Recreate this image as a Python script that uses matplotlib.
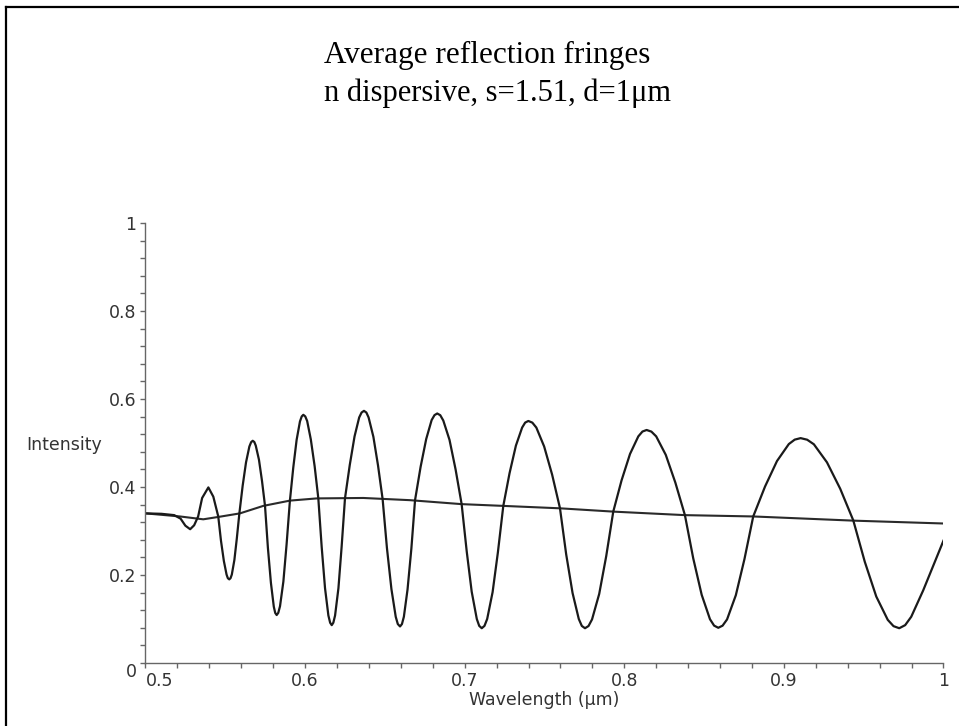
"""Average reflection fringes for a dispersive thin film, Maple-style plot"""

import matplotlib
matplotlib.use("Agg")
import matplotlib.pyplot as plt
from matplotlib.lines import Line2D

# fringe curve (wavelength in um, intensity)
fringe_x = [
    0.500, 0.510, 0.518, 0.522, 0.525, 0.528, 0.5305, 0.533, 0.5355, 0.5394,
    0.5425, 0.5456, 0.5473, 0.5491, 0.5508, 0.5516, 0.5525, 0.5533, 0.5541,
    0.5557, 0.5572, 0.5588, 0.5609, 0.5630, 0.5651, 0.5662, 0.5672, 0.5682,
    0.5691, 0.5711, 0.5730, 0.5749, 0.5767, 0.5786, 0.5804, 0.5813, 0.5822,
    0.5832, 0.5843, 0.5864, 0.5884, 0.5905, 0.5926, 0.5947, 0.5968, 0.5979,
    0.5989, 0.6001, 0.6013, 0.6036, 0.6060, 0.6083, 0.6104, 0.6125, 0.6146,
    0.6157, 0.6167, 0.6177, 0.6188, 0.6209, 0.6229, 0.6250, 0.6280, 0.6310,
    0.6339, 0.6354, 0.6369, 0.6384, 0.6398, 0.6428, 0.6457, 0.6486, 0.6513,
    0.6541, 0.6568, 0.6581, 0.6595, 0.6607, 0.6619, 0.6642, 0.6666, 0.6689,
    0.6724, 0.6759, 0.6793, 0.6811, 0.6828, 0.6847, 0.6866, 0.6905, 0.6943,
    0.6981, 0.7013, 0.7044, 0.7076, 0.7091, 0.7107, 0.7124, 0.7141, 0.7175,
    0.7208, 0.7242, 0.7281, 0.7321, 0.7360, 0.7379, 0.7399, 0.7424, 0.7449,
    0.7498, 0.7548, 0.7597, 0.7636, 0.7676, 0.7715, 0.7734, 0.7754, 0.7776,
    0.7798, 0.7843, 0.7887, 0.7931, 0.7983, 0.8036, 0.8088, 0.8114, 0.8140,
    0.8170, 0.8200, 0.8260, 0.8320, 0.8380, 0.8432, 0.8485, 0.8537, 0.8563,
    0.8589, 0.8616, 0.8644, 0.8699, 0.8753, 0.8808, 0.8882, 0.8957, 0.9031,
    0.9068, 0.9105, 0.9146, 0.9188, 0.9270, 0.9353, 0.9435, 0.9507, 0.9579,
    0.9651, 0.9687, 0.9723, 0.9760, 0.9798, 0.9873, 0.9948, 1.000,
]
fringe_y = [
    0.340, 0.339, 0.336, 0.328, 0.312, 0.304, 0.313, 0.333, 0.375, 0.399,
    0.378, 0.333, 0.278, 0.232, 0.201, 0.1927, 0.190, 0.1928, 0.201,
    0.234, 0.282, 0.339, 0.403, 0.456, 0.492, 0.5018, 0.505, 0.5022,
    0.494, 0.462, 0.414, 0.357, 0.262, 0.182, 0.128, 0.1137, 0.109,
    0.1139, 0.129, 0.185, 0.269, 0.369, 0.444, 0.507, 0.549, 0.5603,
    0.564, 0.5604, 0.550, 0.508, 0.447, 0.374, 0.264, 0.170, 0.108,
    0.0915, 0.086, 0.0915, 0.108, 0.170, 0.264, 0.374, 0.450, 0.515,
    0.558, 0.5692, 0.573, 0.5692, 0.558, 0.514, 0.449, 0.372, 0.261,
    0.168, 0.105, 0.0885, 0.083, 0.0885, 0.105, 0.167, 0.260, 0.370,
    0.446, 0.509, 0.552, 0.5633, 0.567, 0.5631, 0.551, 0.507, 0.440,
    0.361, 0.253, 0.162, 0.100, 0.0844, 0.079, 0.0843, 0.100, 0.161,
    0.251, 0.357, 0.431, 0.494, 0.535, 0.5463, 0.550, 0.5462, 0.535,
    0.492, 0.428, 0.352, 0.247, 0.159, 0.100, 0.0842, 0.079, 0.0840,
    0.099, 0.157, 0.243, 0.344, 0.415, 0.475, 0.515, 0.5260, 0.5295,
    0.5258, 0.515, 0.473, 0.410, 0.336, 0.238, 0.155, 0.0995, 0.0849,
    0.080, 0.0848, 0.099, 0.154, 0.236, 0.333, 0.401, 0.459, 0.4975,
    0.5076, 0.511, 0.5074, 0.497, 0.456, 0.396, 0.324, 0.230, 0.151,
    0.098, 0.0837, 0.079, 0.086, 0.105, 0.165, 0.232, 0.278,
]

# averaged (smooth) curve
avg_x = [0.500, 0.5216, 0.5362, 0.5467, 0.5592, 0.5738, 0.5905, 0.6073, 0.6365,
         0.6657, 0.6981, 0.7242, 0.7597, 0.7931, 0.8380, 0.8808, 0.9435, 1.000]
avg_y = [0.340, 0.333, 0.3265, 0.3325, 0.340, 0.357, 0.369, 0.374, 0.375,
         0.370, 0.361, 0.357, 0.3515, 0.344, 0.336, 0.333, 0.3235, 0.317]

x_ticks = [0.5, 0.6, 0.7, 0.8, 0.9, 1.0]
x_labels = ["0.5", "0.6", "0.7", "0.8", "0.9", "1"]
y_ticks = [0, 0.2, 0.4, 0.6, 0.8, 1.0]
y_labels = ["0", "0.2", "0.4", "0.6", "0.8", "1"]

fig = plt.figure(figsize=(9.59, 7.26), dpi=100)
ax = fig.add_axes([0.1517, 0.0868, 0.8321, 0.6061])

ax.plot(avg_x, avg_y, color="#2a2a2a", lw=1.5)
ax.plot(fringe_x, fringe_y, color="#1a1a1a", lw=1.6)

ax.set_xlim(0.5, 1.0)
ax.set_ylim(0, 1.0)
for side in ["top", "right"]:
    ax.spines[side].set_visible(False)
for side in ["left", "bottom"]:
    ax.spines[side].set_color("#666666")
    ax.spines[side].set_linewidth(1.0)

ax.set_xticks(x_ticks)
ax.set_xticklabels(x_labels)
ax.set_xticks([0.5 + 0.02 * i for i in range(26)], minor=True)
ax.set_yticks(y_ticks)
ax.set_yticklabels(y_labels)
ax.set_yticks([0.04 * i for i in range(26)], minor=True)
ax.tick_params(which="both", direction="out", length=3.5, width=1,
               color="#666666", labelsize=12.5, labelcolor="#333333", pad=3)

# Maple nudges the origin labels out of each other's way
ax.get_xticklabels()[0].set_horizontalalignment("left")
ax.get_yticklabels()[0].set_verticalalignment("top")

ax.set_xlabel("Wavelength (μm)", fontsize=12.5, color="#333333", va="center")
ax.xaxis.set_label_coords(0.5, -0.084)
ax.set_ylabel("Intensity", fontsize=12.5, color="#333333", rotation=0,
              ha="left", va="center")
ax.yaxis.set_label_coords(-0.1497, 0.4955)

fig.text(0.5075, 0.9132, "Average reflection fringes", family="Liberation Serif",
         fontsize=22.5, ha="center", va="baseline")
fig.text(0.519, 0.8609, "n dispersive, s=1.51, d=1μm", family="Liberation Serif",
         fontsize=22, ha="center", va="baseline")

# frame around the whole picture (only left and top edges fall inside)
fig.add_artist(Line2D([0.0063, 0.0063], [0.0, 0.9904], color="black", lw=1.6))
fig.add_artist(Line2D([0.0063, 1.0], [0.9904, 0.9904], color="black", lw=1.6))

fig.savefig("out.png", dpi=100)
